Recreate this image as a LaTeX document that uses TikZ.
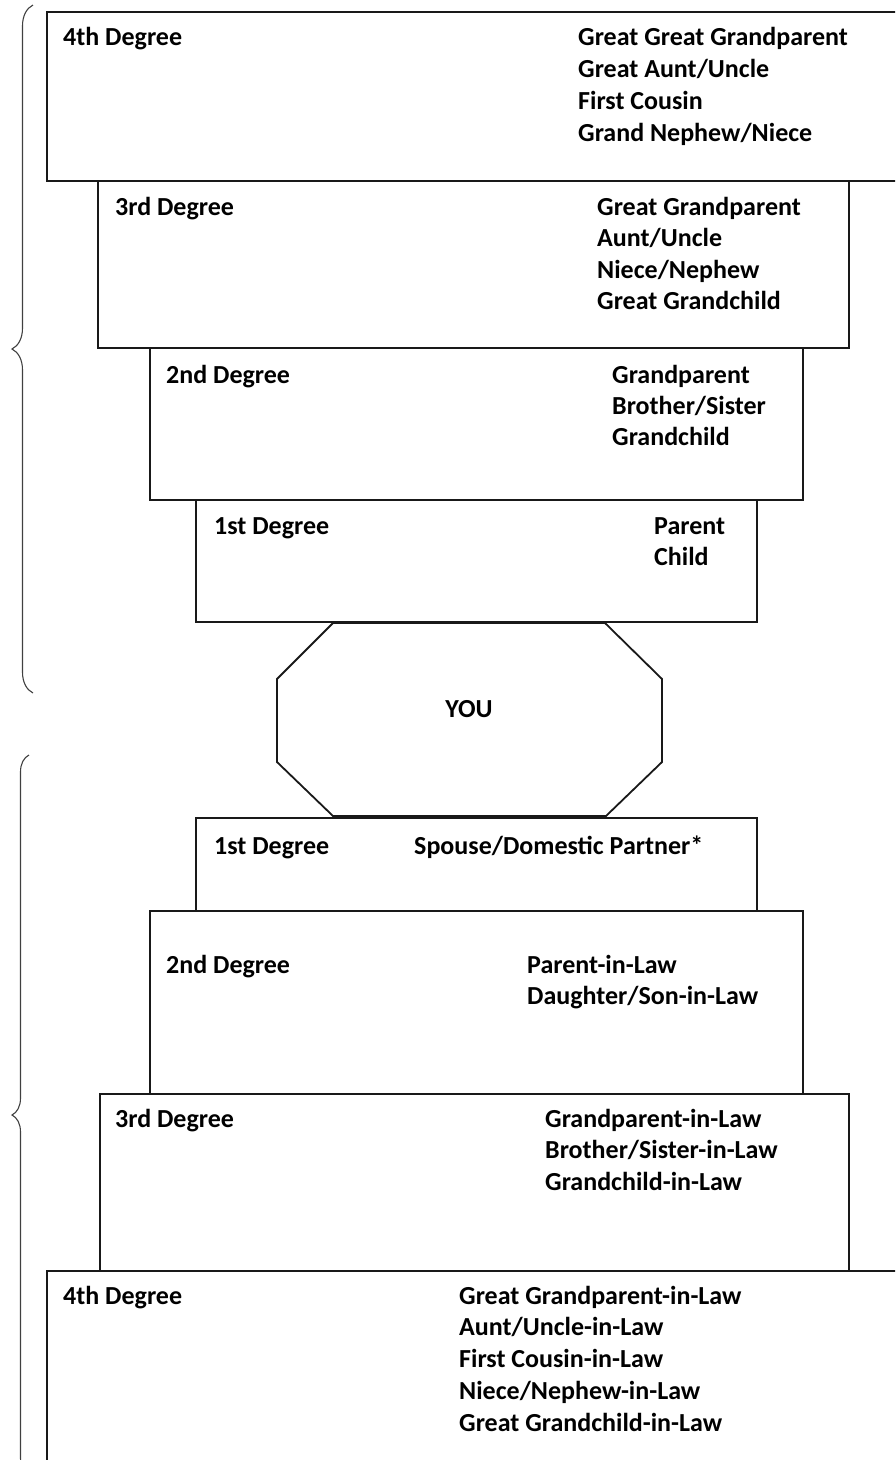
\documentclass[tikz,border=0pt]{standalone}
\usepackage{fontspec}
\setmainfont{Carlito}
\usetikzlibrary{positioning,decorations.pathreplacing}

\tikzset{
  lvl/.style = {draw = black!90, line width = 1.8pt, rectangle, inner sep = 0pt, anchor = north west},
  deg/.style = {anchor = base west, inner sep = 0pt, font = \fontsize{26}{31.7}\selectfont\bfseries},
  rel/.style = {deg},
  curly/.style = {draw = black!75, line width = 1.1pt, decorate, decoration = {brace, amplitude = #1}}
}

\begin{document}
\begin{tikzpicture}[x = 1pt, y = -1pt]
\clip (0,0) rectangle (895,1460);

% blood relatives
\node[lvl, minimum width = 870pt, minimum height = 169pt] (up4) at (46,11) {};
\node[lvl, minimum width = 751pt, minimum height = 167pt] (up3) at (97,180) {};
\node[lvl, minimum width = 653pt, minimum height = 152pt] (up2) at (149,347) {};
\node[lvl, minimum width = 561pt, minimum height = 122pt] (up1) at (195,499) {};

\node[deg] (up4d) at (63,45)  {4th Degree};
\node[deg] (up3d) at (115,215) {3rd Degree};
\node[deg] (up2d) at (166,383) {2nd Degree};
\node[deg] (up1d) at (214,534) {1st Degree};

\foreach \t [count = \i from 0] in {Great Great Grandparent, Great Aunt/Uncle, First Cousin, Grand Nephew/Niece}
  \node[rel] (up4-\i) at (578, 45+32.2*\i) {\t};
\foreach \t [count = \i from 0] in {Great Grandparent, Aunt/Uncle, Niece/Nephew, Great Grandchild}
  \node[rel] (up3-\i) at (597, 215+31.5*\i) {\t};
\foreach \t [count = \i from 0] in {Grandparent, Brother/Sister, Grandchild}
  \node[rel] (up2-\i) at (612, 383+31*\i) {\t};
\foreach \t [count = \i from 0] in {Parent, Child}
  \node[rel] (up1-\i) at (654, 534+31*\i) {\t};

% you
\draw[draw = black!90, line width = 1.8pt]
  (333,623) -- (605,623) -- (662,679) -- (662,762) -- (606,816)
  -- (333,816) -- (277,762) -- (277,679) -- cycle;
\node[deg, anchor = base] (you) at (469,717) {YOU};

% relatives by marriage
\node[lvl, minimum width = 561pt, minimum height = 93pt]  (in1) at (195,817) {};
\node[lvl, minimum width = 653pt, minimum height = 183pt] (in2) at (149,910) {};
\node[lvl, minimum width = 749pt, minimum height = 177pt] (in3) at (99,1093) {};
\node[lvl, minimum width = 880pt, minimum height = 240pt] (in4) at (46,1270) {};

\node[deg] (in1d) at (214,854)  {1st Degree};
\node[deg] (in2d) at (166,973)  {2nd Degree};
\node[deg] (in3d) at (115,1127) {3rd Degree};
\node[deg] (in4d) at (63,1304)  {4th Degree};

\node[rel] (in1-0) at (414,854) {Spouse/Domestic Partner*};
\foreach \t [count = \i from 0] in {Parent-in-Law, Daughter/Son-in-Law}
  \node[rel] (in2-\i) at (527, 973+31.7*\i) {\t};
\foreach \t [count = \i from 0] in {Grandparent-in-Law, Brother/Sister-in-Law, Grandchild-in-Law}
  \node[rel] (in3-\i) at (545, 1127+31.7*\i) {\t};
\foreach \t [count = \i from 0] in {Great Grandparent-in-Law, Aunt/Uncle-in-Law, First Cousin-in-Law, Niece/Nephew-in-Law, Great Grandchild-in-Law}
  \node[rel] (in4-\i) at (459, 1304+31.8*\i) {\t};

% braces
\coordinate (b1top) at (33,5);
\coordinate (b1bot) at (33,693);
\coordinate (b2top) at (29,755);
\coordinate (b2bot) at (29,1475);
\draw[curly = 21pt] (b1bot) -- (b1top);
\draw[curly = 17pt] (b2bot) -- (b2top);
\end{tikzpicture}
\end{document}
